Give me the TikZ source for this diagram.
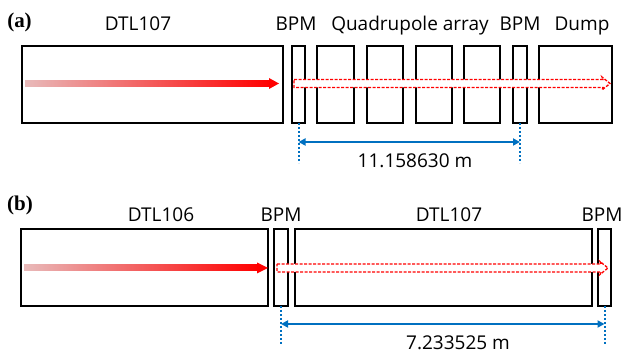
\documentclass[tikz,border=0pt]{standalone}
\usepackage{fontspec}
\setmainfont{Open Sans}
\newfontfamily\labfont{Liberation Serif}
\usetikzlibrary{arrows.meta}
\definecolor{dimblue}{RGB}{0,112,192}
\definecolor{beampink}{RGB}{232,186,186}
\tikzset{
  box/.style={draw=black, line width=2pt, inner sep=0pt, outer sep=0pt, minimum height=77pt},
  lbl/.style={anchor=base, inner sep=0pt, text depth=0pt, font=\fontsize{19}{23}\selectfont},
  plab/.style={anchor=base, inner sep=0pt, font=\labfont\bfseries\fontsize{21}{24}\selectfont},
  dimline/.style={draw=dimblue, line width=2pt, dash pattern=on 2pt off 2pt},
  dimarrow/.style={draw=dimblue, line width=2pt, {Triangle[length=7pt,width=7pt]}-{Triangle[length=7pt,width=7pt]}},
  hollow/.style={draw=red, fill=white, line width=1.3pt, dash pattern=on 3pt off 1.5pt},
}
\begin{document}
\begin{tikzpicture}[x=1pt,y=-1pt]
\useasboundingbox (0,0) rectangle (622,355);
% ---------- panel (a) ----------
\node[plab] (pa) at (19.5,28) {(a)};
\node[box, minimum width=261pt] (dtlA) at (152,84.5) {};
\node[box, minimum width=13pt] (bpmA1) at (298.5,84.5) {};
\node[box, minimum width=37pt] (q1) at (335.5,84.5) {};
\node[box, minimum width=36pt] (q2) at (385,84.5) {};
\node[box, minimum width=36pt] (q3) at (434,84.5) {};
\node[box, minimum width=36pt] (q4) at (482,84.5) {};
\node[box, minimum width=14pt] (bpmA2) at (520,84.5) {};
\node[box, minimum width=73pt] (dump) at (575.5,84.5) {};
\node[lbl] (tA1) at (138,30.5) {DTL107};
\node[lbl] (tA2) at (296,30.5) {BPM};
\node[lbl] (tA3) at (410,30.5) {Quadrupole array};
\node[lbl] (tA4) at (520,30.5) {BPM};
\node[lbl] (tA5) at (582,30.5) {Dump};
% beam
\shade[left color=beampink, right color=red] (25,80.5) rectangle (271,86.5);
\fill[red] (269,78) -- (279,83.5) -- (269,89) -- cycle;
\draw[hollow] (294,79.5) -- (603,79.5) -- (602,77) -- (610,83.5) -- (602,90) -- (603,87.5) -- (294,87.5) -- cycle;
% dimension
\coordinate (dA1) at (298.5,163);
\coordinate (dA2) at (520,163);
\coordinate (hA1) at (298.5,142);
\coordinate (hA2) at (520,142);
\draw[dimline] (bpmA1.south) -- (dA1);
\draw[dimline] (bpmA2.south) -- (dA2);
\draw[dimarrow] (hA1) -- (hA2);
\node[lbl] (lenA) at (415,167.5) {11.158630 m};
% ---------- panel (b) ----------
\node[plab] (pb) at (20,211) {(b)};
\node[box, minimum width=247pt] (dtlB6) at (144.5,267.5) {};
\node[box, minimum width=14pt] (bpmB1) at (281,267.5) {};
\node[box, minimum width=297pt] (dtlB7) at (443.5,267.5) {};
\node[box, minimum width=13pt] (bpmB2) at (604.5,267.5) {};
\node[lbl] (tB1) at (161,222) {DTL106};
\node[lbl] (tB2) at (281,222) {BPM};
\node[lbl] (tB3) at (449,222) {DTL107};
\node[lbl] (tB4) at (602,222) {BPM};
% beam
\shade[left color=beampink, right color=red] (24,265) rectangle (259,271);
\fill[red] (257,262.5) -- (268,268) -- (257,273.5) -- cycle;
\draw[hollow] (277,264) -- (601,264) -- (600,261.5) -- (608,268) -- (600,274.5) -- (601,272) -- (277,272) -- cycle;
% dimension
\coordinate (dB1) at (281,345);
\coordinate (dB2) at (604.5,345);
\coordinate (hB1) at (281,324);
\coordinate (hB2) at (604.5,324);
\draw[dimline] (bpmB1.south) -- (dB1);
\draw[dimline] (bpmB2.south) -- (dB2);
\draw[dimarrow] (hB1) -- (hB2);
\node[lbl] (lenB) at (458,350) {7.233525 m};
\end{tikzpicture}
\end{document}
